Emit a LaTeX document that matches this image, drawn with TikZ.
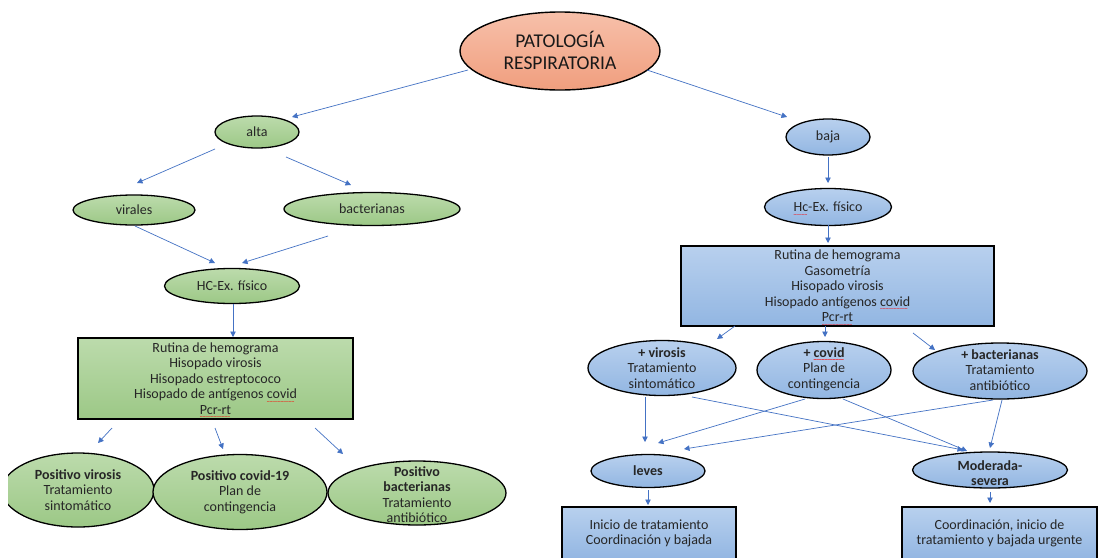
\documentclass[tikz,border=0pt]{standalone}
\usepackage{fontspec}
\setmainfont{Carlito}
\usetikzlibrary{arrows.meta,shapes.geometric}
\definecolor{txt}{RGB}{38,38,38}
\definecolor{arrowblue}{RGB}{68,114,196}
\definecolor{gtop}{RGB}{188,219,172}
\definecolor{gbot}{RGB}{156,200,134}
\definecolor{btop}{RGB}{184,208,238}
\definecolor{bbot}{RGB}{146,182,226}
\definecolor{stop}{RGB}{247,192,170}
\definecolor{sbot}{RGB}{240,158,126}
\newsavebox\sqbox
\newcommand\sq[1]{\sbox\sqbox{#1}\leavevmode\rlap{\usebox\sqbox}\raisebox{-4.6pt}[0pt][0pt]{\textcolor{red}{\fontsize{5.5}{5.5}\selectfont\leaders\hbox{\char"7E}\hskip\wd\sqbox}}}
\begin{document}
\begin{tikzpicture}[x=1pt,y=-1pt,
  every node/.style={font=\fontsize{14}{15.5}\selectfont, text=txt, align=center, inner sep=0pt},
  gell/.style={ellipse, draw=black, line width=1.3pt, top color=gtop, bottom color=gbot},
  bell/.style={ellipse, draw=black, line width=1.3pt, top color=btop, bottom color=bbot},
  sell/.style={ellipse, draw=black, line width=1.4pt, top color=stop, bottom color=sbot},
  gbox/.style={rectangle, draw=black, line width=1.3pt, top color=gtop, bottom color=gbot},
  bbox/.style={rectangle, draw=black, line width=1.3pt, top color=btop, bottom color=bbot},
  arr/.style={draw=arrowblue, line width=0.7pt, -{Triangle[length=5.5pt,width=5.5pt]}}]
\useasboundingbox (0,0) rectangle (1100,557);
\fill[white] (0,0) rectangle (1100,557);

% title
\node[sell, minimum width=200, minimum height=78] (title) at (560,51) {};
\node[font=\fontsize{19.5}{22}\selectfont, text=black!90] (titleT) at (560,50) {PATOLOGÍA\\RESPIRATORIA};

% left branch
\node[gell, minimum width=84, minimum height=32] (alta) at (257,132) {alta};
\node[gell, minimum width=122, minimum height=30] (virales) at (134,210) {virales};
\node[gell, minimum width=176, minimum height=33] (bacterianas) at (372,209) {bacterianas};
\node[gell, minimum width=135, minimum height=35] (hcL) at (232,286) {HC-Ex. físico};
\node[gbox, minimum width=275, minimum height=81] (boxL) at (215.5,378.5)
  {Rutina de hemograma\\Hisopado virosis\\Hisopado estreptococo\\Hisopado de antígenos \sq{covid}\\\sq{Pcr-rt}};

\begin{scope}
\clip (8,0) rectangle (1100,557);
\node[gell, minimum width=152, minimum height=74] (posVir) at (78,490) {};
\end{scope}
\node (posVirT) at (78,490) {\textbf{Positivo virosis}\\Tratamiento\\sintomático};
\node[gell, minimum width=174, minimum height=75] (posCov) at (240,492) {};
\node (posCovT) at (240,492) {\textbf{Positivo covid-19}\\Plan de\\contingencia};
\node[gell, minimum width=178, minimum height=64] (posBac) at (417,493) {};
\node (posBacT) at (417,494.5) {\textbf{Positivo}\\\textbf{bacterianas}\\Tratamiento\\antibiótico};

% right branch
\node[bell, minimum width=84, minimum height=36] (baja) at (828,137) {baja};
\node[bell, minimum width=127, minimum height=37] (hcR) at (828,207) {\sq{Hc}-Ex. físico};
\node[bbox, minimum width=313, minimum height=80] (boxR) at (837.5,286)
  {Rutina de hemograma\\Gasometría\\Hisopado virosis\\Hisopado antígenos \sq{covid}\\\sq{Pcr-rt}};

\node[bell, minimum width=148, minimum height=55] (pVir) at (662,368) {};
\node (pVirT) at (662,368) {\textbf{+ virosis}\\Tratamiento\\sintomático};
\node[bell, minimum width=134, minimum height=57] (pCov) at (824,370) {};
\node (pCovT) at (824,369) {\textbf{+ \sq{covid}}\\Plan de\\contingencia};
\node[bell, minimum width=174, minimum height=56] (pBac) at (1000,371) {};
\node (pBacT) at (1000,370) {\textbf{+ bacterianas}\\Tratamiento\\antibiótico};

\node[bell, minimum width=114, minimum height=33] (leves) at (648,471) {\textbf{leves}};
\node[bell, minimum width=155, minimum height=36] (mod) at (990,470) {};
\node (modT) at (990,473) {\textbf{Moderada-}\\\textbf{severa}};

\node[bbox, minimum width=174, minimum height=53] (boxL2) at (649,533.5)
  {Inicio de tratamiento\\Coordinación y bajada};
\node[bbox, minimum width=195, minimum height=53] (boxR2) at (999.5,533.5)
  {Coordinación, inicio de\\tratamiento y bajada urgente};

% connectors
\draw[arr] ([shift={(-92,19)}]title.center) -- ([shift={(35,-15)}]alta.center);
\draw[arr] ([shift={(87,19)}]title.center) -- ([shift={(-41,-20)}]baja.center);
\draw[arr] ([shift={(-42,17)}]alta.center) -- ([shift={(3,-27)}]virales.center);
\draw[arr] ([shift={(29,25)}]alta.center) -- ([shift={(-21,-24)}]bacterianas.center);
\draw[arr] ([shift={(1,16)}]virales.center) -- ([shift={(-17,-23)}]hcL.center);
\draw[arr] ([shift={(-44,27)}]bacterianas.center) -- ([shift={(10,-23)}]hcL.center);
\draw[arr] ([shift={(1,18)}]hcL.center) -- ([shift={(17.5,-41.5)}]boxL.center);
\draw[arr] ([shift={(-103.5,49.5)}]boxL.center) -- ([shift={(20,-47)}]posVir.center);
\draw[arr] ([shift={(-0.5,49.5)}]boxL.center) -- ([shift={(-17,-43)}]posCov.center);
\draw[arr] ([shift={(99.5,49.5)}]boxL.center) -- ([shift={(-74,-39)}]posBac.center);

\draw[arr] ([shift={(0,20)}]baja.center) -- ([shift={(0,-24)}]hcR.center);
\draw[arr] ([shift={(0,18)}]hcR.center) -- ([shift={(-9.5,-43)}]boxR.center);
\draw[arr] ([shift={(-102.5,40)}]boxR.center) -- ([shift={(55,-29)}]pVir.center);
\draw[arr] ([shift={(-12.5,40)}]boxR.center) -- ([shift={(1,-33)}]pCov.center);
\draw[arr] ([shift={(75.5,47)}]boxR.center) -- ([shift={(-65,-21)}]pBac.center);
\draw[arr] ([shift={(-17,29)}]pVir.center) -- ([shift={(-3,-29)}]leves.center);
\draw[arr] ([shift={(30,29)}]pVir.center) -- ([shift={(-27,-20)}]mod.center);
\draw[arr] ([shift={(-19,29)}]pCov.center) -- ([shift={(10,-28)}]leves.center);
\draw[arr] ([shift={(19,29)}]pCov.center) -- ([shift={(-23,-19)}]mod.center);
\draw[arr] ([shift={(-7,29)}]pBac.center) -- ([shift={(36,-22)}]leves.center);
\draw[arr] ([shift={(2,29)}]pBac.center) -- ([shift={(0,-22)}]mod.center);
\draw[arr] ([shift={(0,19)}]leves.center) -- ([shift={(-1,-28.5)}]boxL2.center);
\draw[arr] ([shift={(0,22)}]mod.center) -- ([shift={(-9.5,-30.5)}]boxR2.center);
\end{tikzpicture}
\end{document}
